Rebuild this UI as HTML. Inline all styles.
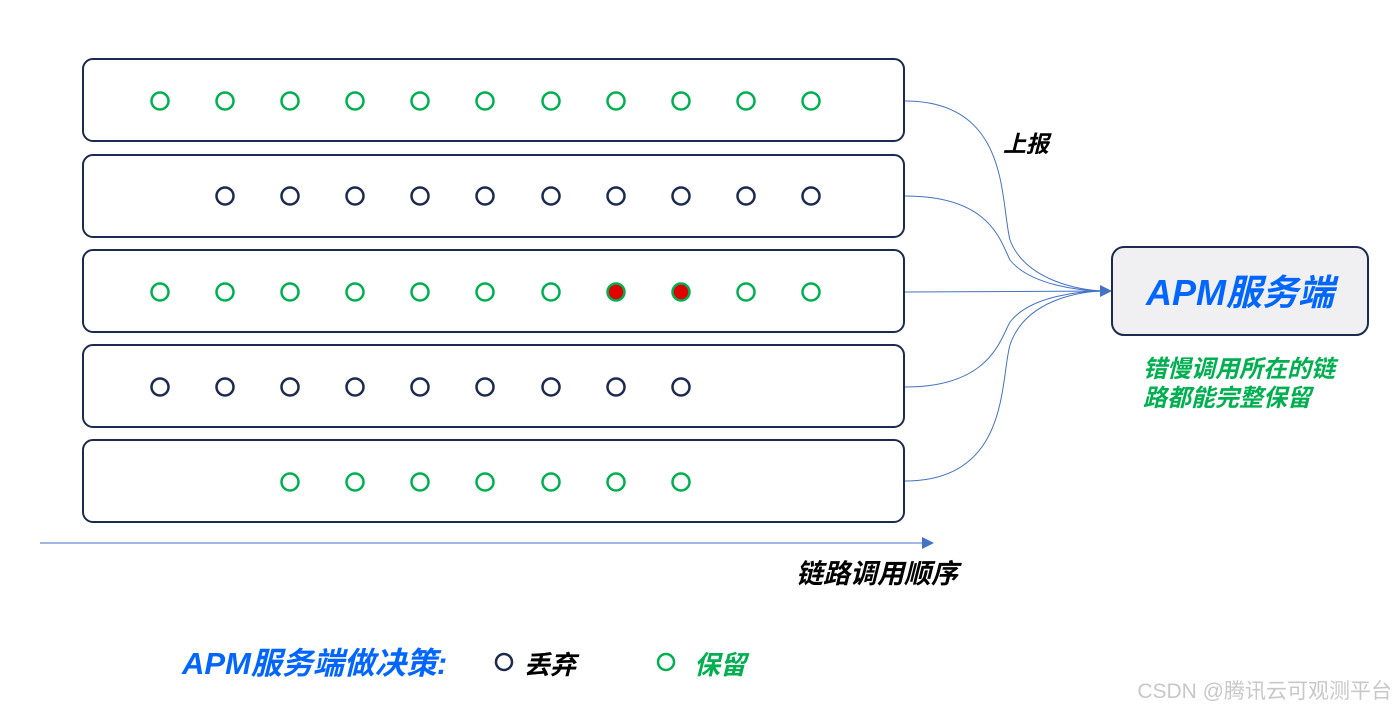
<!DOCTYPE html>
<html><head><meta charset="utf-8"><style>
body{margin:0;background:#fff;width:1398px;height:714px;overflow:hidden}
svg text{font-family:"Liberation Sans","Noto Sans CJK SC",sans-serif}
</style></head><body>
<svg width="1398" height="714" xmlns="http://www.w3.org/2000/svg">
<g fill="none" stroke="#1b2a4e" stroke-width="2">
<rect x="83" y="59" width="821" height="82" rx="10"/>
<rect x="83" y="155" width="821" height="82" rx="10"/>
<rect x="83" y="250" width="821" height="82" rx="10"/>
<rect x="83" y="345" width="821" height="82" rx="10"/>
<rect x="83" y="440" width="821" height="82" rx="10"/>
</g>
<g fill="none" stroke-width="2.5">
<g stroke="#00b050">
<circle cx="160" cy="101" r="8.5"/><circle cx="225" cy="101" r="8.5"/><circle cx="290" cy="101" r="8.5"/><circle cx="355" cy="101" r="8.5"/><circle cx="420" cy="101" r="8.5"/><circle cx="485" cy="101" r="8.5"/><circle cx="551" cy="101" r="8.5"/><circle cx="616" cy="101" r="8.5"/><circle cx="681" cy="101" r="8.5"/><circle cx="746" cy="101" r="8.5"/><circle cx="811" cy="101" r="8.5"/>
<circle cx="160" cy="292" r="8.5"/><circle cx="225" cy="292" r="8.5"/><circle cx="290" cy="292" r="8.5"/><circle cx="355" cy="292" r="8.5"/><circle cx="420" cy="292" r="8.5"/><circle cx="485" cy="292" r="8.5"/><circle cx="551" cy="292" r="8.5"/><circle cx="616" cy="292" r="8.5" fill="#e00000"/><circle cx="681" cy="292" r="8.5" fill="#e00000"/><circle cx="746" cy="292" r="8.5"/><circle cx="811" cy="292" r="8.5"/>
<circle cx="290" cy="482" r="8.5"/><circle cx="355" cy="482" r="8.5"/><circle cx="420" cy="482" r="8.5"/><circle cx="485" cy="482" r="8.5"/><circle cx="551" cy="482" r="8.5"/><circle cx="616" cy="482" r="8.5"/><circle cx="681" cy="482" r="8.5"/>
<circle cx="666" cy="662" r="8"/>
</g>
<g stroke="#1b2a4e">
<circle cx="225" cy="196" r="8.5"/><circle cx="290" cy="196" r="8.5"/><circle cx="355" cy="196" r="8.5"/><circle cx="420" cy="196" r="8.5"/><circle cx="485" cy="196" r="8.5"/><circle cx="551" cy="196" r="8.5"/><circle cx="616" cy="196" r="8.5"/><circle cx="681" cy="196" r="8.5"/><circle cx="746" cy="196" r="8.5"/><circle cx="811" cy="196" r="8.5"/>
<circle cx="160" cy="387" r="8.5"/><circle cx="225" cy="387" r="8.5"/><circle cx="290" cy="387" r="8.5"/><circle cx="355" cy="387" r="8.5"/><circle cx="420" cy="387" r="8.5"/><circle cx="485" cy="387" r="8.5"/><circle cx="551" cy="387" r="8.5"/><circle cx="616" cy="387" r="8.5"/><circle cx="681" cy="387" r="8.5"/>
<circle cx="504" cy="662" r="8"/>
</g>
</g>
<g fill="none" stroke="#4472c4" stroke-width="1">
<path d="M905,101 C1010,101 1000,200 1010,240 C1025,280 1080,291 1105,291"/>
<path d="M905,196 C990,196 1000,240 1010,260 C1030,285 1080,291 1105,291"/>
<path d="M905,292 L1105,291"/>
<path d="M905,387 C990,387 1000,340 1010,322 C1030,296 1080,291 1105,291"/>
<path d="M905,481 C1010,481 1000,380 1010,345 C1025,300 1080,291 1105,291"/>
<path d="M40,543 L924,543"/>
</g>
<polygon points="1112,291 1100,285 1100,297" fill="#4472c4"/>
<polygon points="934,543 922,537 922,549" fill="#4472c4"/>
<rect x="1112" y="247" width="256" height="88" rx="12" fill="#f0f0f2" stroke="#1b2a4e" stroke-width="2"/>
<text x="1240" y="305" font-size="36" font-weight="bold" font-style="italic" fill="#0066ff" text-anchor="middle">APM服务端</text>
<text x="1143" y="377" font-size="24" font-weight="bold" font-style="italic" fill="#00b050">错慢调用所在的链</text>
<text x="1143" y="406" font-size="24" font-weight="bold" font-style="italic" fill="#00b050">路都能完整保留</text>
<text x="1003" y="152" font-size="23" font-weight="bold" font-style="italic" fill="#000">上报</text>
<text x="796" y="583" font-size="27" font-weight="bold" font-style="italic" fill="#000">链路调用顺序</text>
<text x="182" y="674" font-size="31" font-weight="bold" font-style="italic" fill="#0066ff">APM服务端做决策:</text>
<text x="524" y="674" font-size="26" font-weight="bold" font-style="italic" fill="#000">丢弃</text>
<text x="694" y="674" font-size="26" font-weight="bold" font-style="italic" fill="#00b050">保留</text>
<text x="1392" y="698" font-size="21" fill="#c8c8c8" text-anchor="end">CSDN @腾讯云可观测平台</text>
</svg>
</body></html>
